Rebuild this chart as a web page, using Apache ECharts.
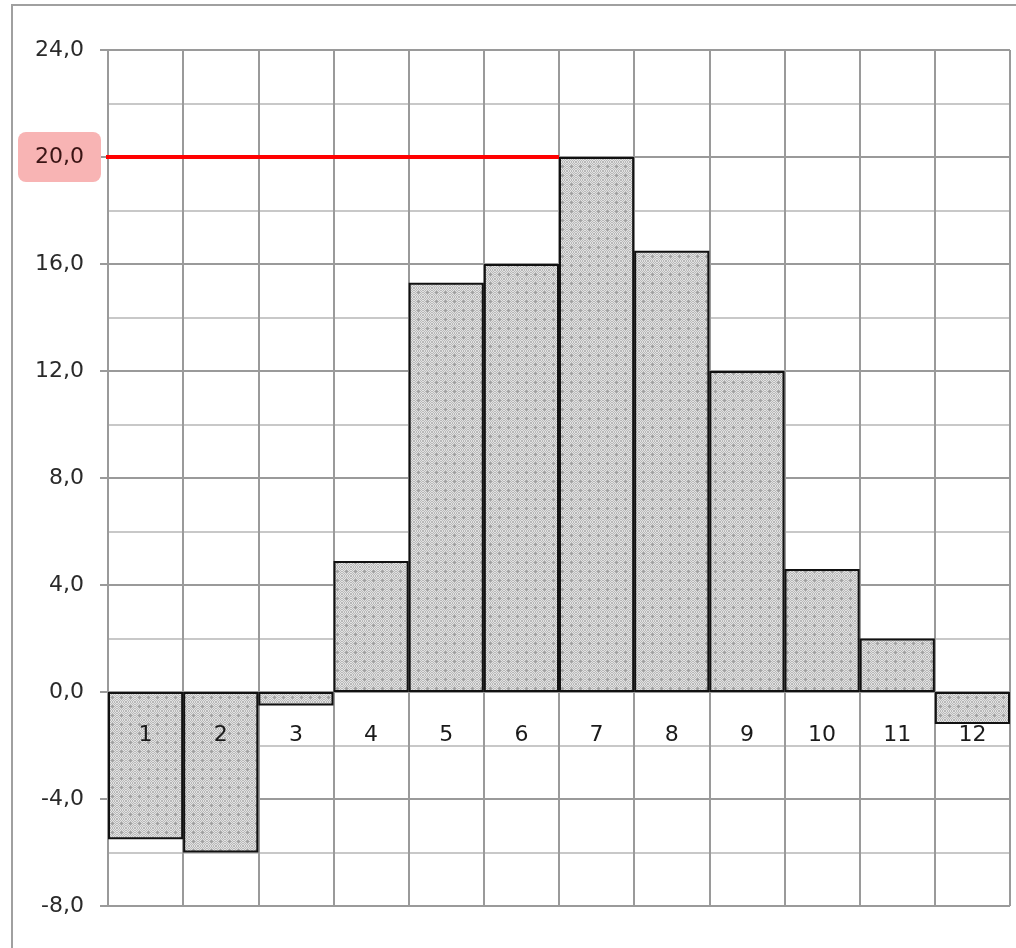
<!DOCTYPE html>
<html>
<head>
<meta charset="utf-8">
<script src="https://cdn.jsdelivr.net/npm/echarts@6/dist/echarts.min.js"></script>
<style>html,body{margin:0;padding:0;background:#fff;}#c{width:1016px;height:948px;}</style>
</head>
<body>
<div id="c"></div>
<script>
const categories = ['1','2','3','4','5','6','7','8','9','10','11','12'];
const values = [-5.5, -6.0, -0.5, 4.9, 15.3, 16.0, 20.0, 16.5, 12.0, 4.6, 2.0, -1.2];
const highlightValue = 20;
const refLineX = [-0.04, 6];   // from the axis to the left edge of month 7
const yMin = -8, yMax = 24, yStep = 4;

const FONT = '"DejaVu Sans",sans-serif';

function makePattern() {
  const c = document.createElement('canvas');
  c.width = 9; c.height = 9;
  const g = c.getContext('2d');
  g.fillStyle = '#e2e2e2';
  g.fillRect(0, 0, 9, 9);
  for (let y = 0; y < 9; y++) {
    for (let x = 0; x < 9; x++) {
      if ((x + y) % 2 === 0) { g.fillStyle = '#b8b8b8'; g.fillRect(x, y, 1, 1); }
    }
  }
  g.fillStyle = '#a2a2a2';
  g.fillRect(4, 3, 1, 3);
  g.fillRect(3, 4, 3, 1);
  return c;
}

const chart = echarts.init(document.getElementById('c'), null, {renderer: 'canvas'});
chart.setOption({
  animation: false,
  backgroundColor: '#fff',
  graphic: [{
    type: 'rect', silent: true, z: -1,
    shape: {x: 12, y: 5, width: 1030, height: 980},
    style: {fill: 'none', stroke: '#a0a0a0', lineWidth: 2}
  }],
  grid: {left: 108, right: 6, top: 50, bottom: 42, containLabel: false, outerBoundsMode: 'none'},
  xAxis: [{
    type: 'category',
    data: categories,
    boundaryGap: true,
    axisLine: {show: false},
    axisTick: {show: false},
    axisLabel: {show: false},
    splitLine: {show: true, interval: 0, lineStyle: {color: '#9a9a9a', width: 2}}
  }, {
    type: 'value', min: 0, max: 12, show: false, position: 'top'
  }],
  yAxis: {
    type: 'value',
    min: yMin, max: yMax, interval: yStep,
    axisLine: {show: true, onZero: false, lineStyle: {color: '#9a9a9a', width: 2}},
    axisTick: {show: true, length: 8, lineStyle: {color: '#9a9a9a', width: 2}},
    axisLabel: {
      margin: 7,
      color: '#2a2a2a',
      fontFamily: FONT,
      fontSize: 22,
      formatter: v => (v === highlightValue ? '{hl|' : '{n|') + v.toFixed(1).replace('.', ',') + '}',
      rich: {
        n: {fontFamily: FONT, fontSize: 22, color: '#2a2a2a', padding: [0, 17, 0, 0]},
        hl: {fontFamily: FONT, fontSize: 22, color: '#3a1414', backgroundColor: '#f8b4b4',
             borderRadius: 8, lineHeight: 25, padding: [14, 17, 14, 17]}
      }
    },
    splitLine: {show: true, lineStyle: {color: '#9a9a9a', width: 2}},
    minorTick: {show: false, splitNumber: 2},
    minorSplitLine: {show: true, lineStyle: {color: '#c8c8c8', width: 2}}
  },
  series: [{
    type: 'bar',
    data: values,
    barWidth: '100%',
    barCategoryGap: 0,
    itemStyle: {
      color: {image: makePattern(), repeat: 'repeat'},
      borderColor: '#111',
      borderWidth: 2
    },
    z: 2
  }, {
    // category labels sitting just under the zero line
    type: 'bar',
    data: categories.map(() => 0),
    barWidth: '100%',
    barGap: '-100%',
    itemStyle: {color: 'rgba(0,0,0,0)', borderWidth: 0},
    label: {
      show: true, position: 'bottom', distance: 32,
      formatter: p => p.name,
      fontFamily: FONT, fontSize: 22, color: '#1a1a1a'
    },
    silent: true,
    z: 10
  }, {
    type: 'line',
    xAxisIndex: 1,
    data: refLineX.map(x => [x, highlightValue]),
    showSymbol: false,
    symbol: 'none',
    clip: false,
    lineStyle: {color: '#ff0000', width: 4},
    z: 5
  }]
});
</script>
</body>
</html>
